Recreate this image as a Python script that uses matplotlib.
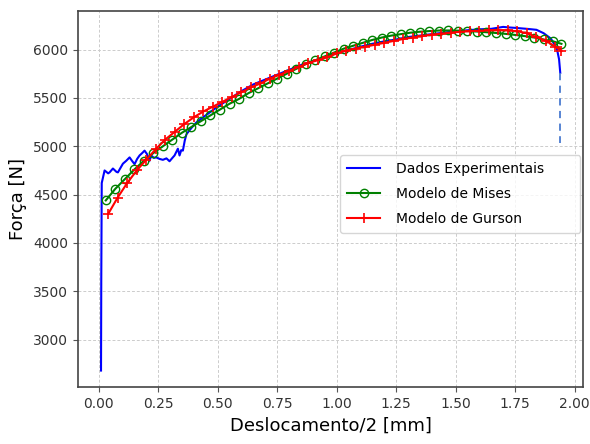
import matplotlib
matplotlib.use("Agg")
import matplotlib.pyplot as plt

# experimental data (Dados Experimentais)
exp_x = [0.010, 0.011, 0.013, 0.025, 0.040, 0.046, 0.060, 0.075, 0.081, 0.095,
         0.102, 0.116, 0.130, 0.140, 0.151, 0.162, 0.172, 0.183, 0.193, 0.203,
         0.214, 0.221, 0.232, 0.242, 0.255, 0.270, 0.285, 0.298, 0.310, 0.319,
         0.333, 0.340, 0.347, 0.354, 0.362, 0.369, 0.390, 0.410, 0.45, 0.50,
         0.55, 0.60, 0.65, 0.70, 0.75, 0.80, 0.85, 0.90, 0.95, 1.00,
         1.05, 1.10, 1.15, 1.20, 1.25, 1.30, 1.35, 1.40, 1.45, 1.50,
         1.55, 1.60, 1.65, 1.70, 1.72, 1.75, 1.80, 1.84, 1.87, 1.90,
         1.925, 1.935, 1.94]
exp_y = [2680, 3600, 4620, 4750, 4720, 4730, 4770, 4735, 4730, 4790,
         4820, 4850, 4885, 4850, 4815, 4870, 4905, 4930, 4955, 4920,
         4850, 4905, 4880, 4885, 4870, 4860, 4875, 4845, 4880, 4905,
         4975, 4905, 4960, 4955, 5060, 5125, 5190, 5245, 5320, 5410,
         5490, 5570, 5640, 5690, 5740, 5790, 5840, 5880, 5920, 5965,
         5995, 6030, 6060, 6085, 6105, 6130, 6145, 6160, 6175, 6190,
         6200, 6210, 6215, 6235, 6230, 6225, 6215, 6205, 6170, 6115,
         6020, 5900, 5760]
# final drop (fracture)
drop_x = [1.94, 1.94]
drop_y = [5760, 5030]

# Modelo de Mises
mises_x = [0.03, 0.07, 0.11, 0.15, 0.19, 0.23, 0.27, 0.31, 0.35, 0.39,
           0.43, 0.47, 0.51, 0.55, 0.59, 0.63, 0.67, 0.71, 0.75, 0.79,
           0.83, 0.87, 0.91, 0.95, 0.99, 1.03, 1.07, 1.11, 1.15, 1.19,
           1.23, 1.27, 1.31, 1.35, 1.39, 1.43, 1.47, 1.51, 1.55, 1.59,
           1.63, 1.67, 1.71, 1.75, 1.79, 1.83, 1.87, 1.91, 1.945]
mises_y = [4440, 4560, 4660, 4760, 4850, 4930, 5000, 5070, 5140, 5200,
           5260, 5320, 5380, 5440, 5490, 5550, 5600, 5650, 5700, 5750,
           5800, 5850, 5890, 5930, 5970, 6010, 6040, 6070, 6100, 6125,
           6145, 6160, 6175, 6185, 6192, 6197, 6198, 6196, 6192, 6187,
           6180, 6172, 6163, 6152, 6140, 6125, 6105, 6085, 6060]

# Modelo de Gurson
gurson_x = [0.04, 0.08, 0.12, 0.16, 0.20, 0.24, 0.28, 0.32, 0.36, 0.40,
            0.44, 0.48, 0.52, 0.56, 0.60, 0.64, 0.68, 0.72, 0.76, 0.80,
            0.84, 0.88, 0.92, 0.96, 1.00, 1.04, 1.08, 1.12, 1.16, 1.20,
            1.24, 1.28, 1.32, 1.36, 1.40, 1.44, 1.48, 1.52, 1.56, 1.60,
            1.64, 1.68, 1.72, 1.76, 1.80, 1.84, 1.88, 1.92, 1.945]
gurson_y = [4300, 4470, 4620, 4750, 4860, 4970, 5070, 5150, 5230, 5300,
            5360, 5410, 5460, 5510, 5560, 5610, 5650, 5700, 5740, 5780,
            5820, 5860, 5890, 5920, 5960, 5990, 6010, 6030, 6050, 6070,
            6090, 6110, 6125, 6140, 6155, 6165, 6175, 6185, 6190, 6195,
            6198, 6200, 6198, 6190, 6170, 6130, 6090, 6030, 5985]

fig = plt.figure(figsize=(5.9, 4.44), dpi=100)
ax = fig.add_axes([0.1317, 0.1284, 0.857, 0.8476])

ax.plot(exp_x, exp_y, color="blue", lw=1.5, label="Dados Experimentais")
ax.plot(drop_x, drop_y, color="#4a7bd0", lw=1.3, ls=(0, (4, 3)))
ax.plot(mises_x, mises_y, color="green", lw=1.5, marker="o", ms=6,
        mfc="none", mew=1.0, label="Modelo de Mises")
ax.plot(gurson_x, gurson_y, color="red", lw=1.5, marker="+", ms=7,
        mew=1.2, label="Modelo de Gurson")

ax.set_xlim(-0.088, 2.037)
ax.set_ylim(2510, 6403)
ax.set_xticks([0.0, 0.25, 0.5, 0.75, 1.0, 1.25, 1.5, 1.75, 2.0])
ax.set_xticklabels(["0.00", "0.25", "0.50", "0.75", "1.00", "1.25", "1.50", "1.75", "2.00"])
ax.set_yticks([3000, 3500, 4000, 4500, 5000, 5500, 6000])
ax.tick_params(labelsize=10, labelcolor="#333333", color="#555555")
ax.grid(True, ls=(0, (3, 2)), color="#cccccc", lw=0.7)
for s in ax.spines.values():
    s.set_color("#444444")
    s.set_linewidth(1.2)

ax.set_xlabel("Deslocamento/2 [mm]", fontsize=13)
ax.set_ylabel("Força [N]", fontsize=13)

ax.legend(loc="upper left", bbox_to_anchor=(0.519, 0.2, 0.475, 0.4165),
          mode="expand", borderaxespad=0, fontsize=10,
          frameon=True, edgecolor="#cccccc", borderpad=0.5, labelspacing=0.8,
          handlelength=2.4, handletextpad=1.1)

fig.savefig("out.png", dpi=100)
